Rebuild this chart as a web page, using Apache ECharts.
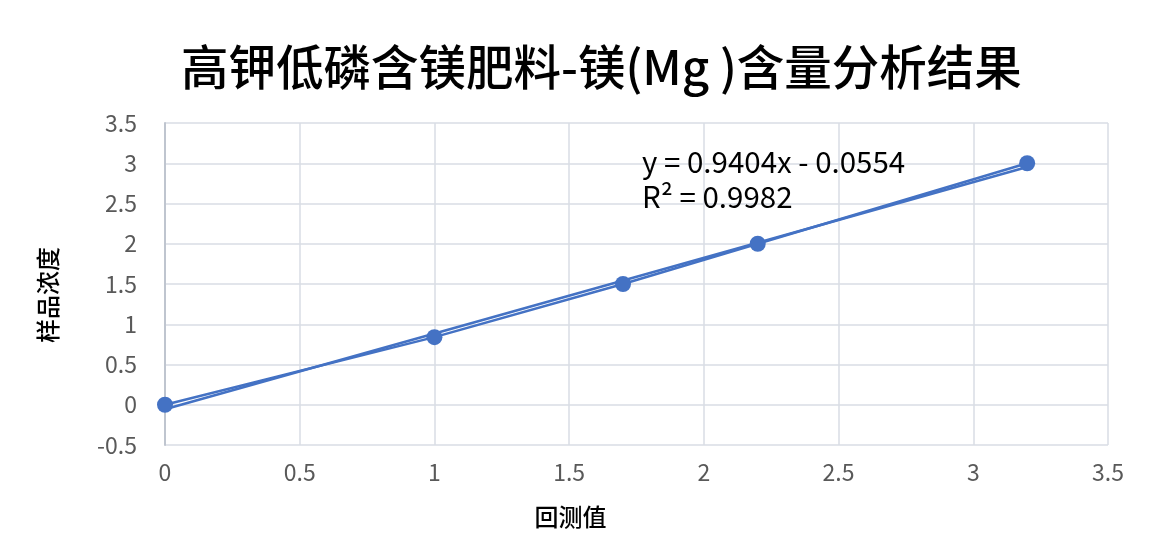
<!DOCTYPE html>
<html>
<head>
<meta charset="utf-8">
<script src="https://cdn.jsdelivr.net/npm/echarts@6/dist/echarts.min.js"></script>
<style>
  html, body { margin: 0; padding: 0; background: #fff; }
  #chart { width: 1160px; height: 548px; }
</style>
</head>
<body>
<div id="chart"></div>
<script>
// Data
const xValues = [0, 1, 1.7, 2.2, 3.2];
const yValues = [0, 0.84, 1.5, 2, 3];
const trendSlope = 0.9404;
const trendIntercept = -0.0554;
const trendLabel = ['y = 0.9404x - 0.0554', 'R² = 0.9982'];

const points = xValues.map((x, i) => [x, yValues[i]]);
const xFirst = Math.min(...xValues);
const xLast = Math.max(...xValues);
const trendPoints = [xFirst, xLast].map(x => [x, trendSlope * x + trendIntercept]);

const labelColor = '#595959';
const gridColor = '#d9dde4';
const blue = '#4472c4';
const fontCJK = '"Noto Sans CJK SC", "Noto Sans", sans-serif';

const chart = echarts.init(document.getElementById('chart'));

chart.setOption({
    backgroundColor: '#fff',
    animation: false,
    title: {
        text: '高钾低磷含镁肥料-镁(Mg )含量分析结果',
        left: 176,
        top: 38,
        textStyle: { fontFamily: fontCJK, fontSize: 47.5, fontWeight: 500, color: '#000' }
    },
    grid: { left: 165, right: 52, top: 123, bottom: 103 },
    xAxis: {
        type: 'value',
        min: 0, max: 3.5, interval: 0.5,
        name: '回测值',
        nameLocation: 'middle',
        nameGap: 60,
        nameTextStyle: { fontFamily: fontCJK, fontSize: 24, fontWeight: 500, color: '#000', padding: [0, 132, 0, 0] },
        axisLine: { show: false },
        axisTick: { show: false },
        axisLabel: { color: labelColor, fontSize: 23, fontFamily: fontCJK, margin: 16 },
        splitLine: { show: true, lineStyle: { color: gridColor, width: 1.5 } }
    },
    yAxis: {
        type: 'value',
        min: -0.5, max: 3.5, interval: 0.5,
        name: '样品浓度',
        nameLocation: 'middle',
        nameGap: 105,
        nameRotate: 90,
        nameTextStyle: { fontFamily: fontCJK, fontSize: 24, fontWeight: 500, color: '#000', padding: [0, 22, 0, 0] },
        axisLine: { show: true, onZero: false, lineStyle: { color: '#bfc5cf', width: 2 } },
        axisTick: { show: false },
        axisLabel: { color: labelColor, fontSize: 23, fontFamily: fontCJK, margin: 28 },
        splitLine: { show: true, lineStyle: { color: gridColor, width: 1.5 } }
    },
    graphic: [{
        type: 'text',
        left: 642,
        top: 144,
        z: 100,
        style: {
            text: trendLabel.join('\n'),
            fontFamily: fontCJK,
            fontSize: 29.5,
            lineHeight: 35,
            fill: '#000'
        }
    }],
    series: [
        {
            name: '样品浓度',
            type: 'line',
            data: points,
            symbol: 'circle',
            symbolSize: 16,
            lineStyle: { color: blue, width: 2.5 },
            itemStyle: { color: blue }
        },
        {
            name: '线性 (样品浓度)',
            type: 'line',
            data: trendPoints,
            symbol: 'none',
            lineStyle: { color: blue, width: 2.5 }
        }
    ]
});
</script>
</body>
</html>
